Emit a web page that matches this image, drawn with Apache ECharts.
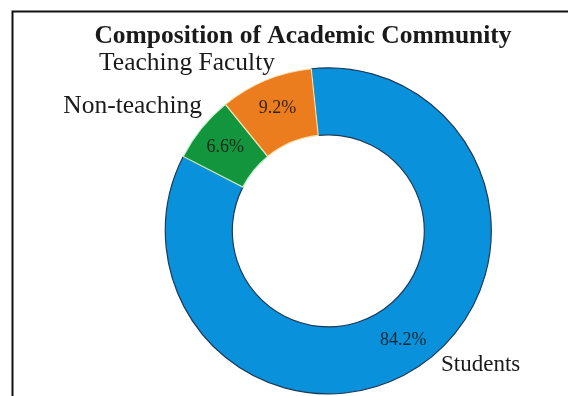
<!DOCTYPE html>
<html>
<head>
<meta charset="utf-8">
<script src="https://cdn.jsdelivr.net/npm/echarts@6/dist/echarts.min.js"></script>
<style>
  html, body { margin: 0; padding: 0; background: #fff; }
  #chart { width: 568px; height: 396px; }
</style>
</head>
<body>
<div id="chart"></div>
<script>
// donut chart - academic community
const categories = ['Students', 'Non-teaching', 'Teaching Faculty']
const shares = [84.2, 6.6, 9.2]
const sliceColors = ['#0a91dc', '#13953d', '#eb7d1f']
const edgeColors = ['#1d3b58', '#bff0c8', '#f5e3b0']
// where the outside names sit (text anchor) and how big
const namePos = [
  { x: 441, y: 365, align: 'left', size: 23 },
  { x: 202, y: 106, align: 'right', size: 25.5 },
  { x: 275, y: 63, align: 'right', size: 25.5 }
]

const chart = echarts.init(document.getElementById('chart'))

const serif = '"Liberation Serif", "Times New Roman", serif'

const pieData = categories.map((name, i) => ({
  name: name,
  value: shares[i],
  itemStyle: { color: sliceColors[i], borderColor: edgeColors[i] }
}))

const nameData = categories.map((name, i) => ({
  name: name,
  value: shares[i],
  label: { fontSize: namePos[i].size }
}))

chart.setOption({
  animation: false,
  title: {
    text: 'Composition of Academic Community',
    left: 298,
    textAlign: 'center',
    top: 18,
    textStyle: { fontFamily: serif, fontSize: 25.5, fontWeight: 'bold', color: '#1a1a1a' }
  },
  graphic: [{
    type: 'rect',
    shape: { x: 12.5, y: 11.5, width: 700, height: 500 },
    style: { fill: null, stroke: '#111', lineWidth: 2 },
    silent: true
  }],
  series: [
    {
      type: 'pie',
      center: ['57.8%', '58.3%'],
      radius: [96, 163],
      startAngle: 96,
      clockwise: true,
      data: pieData,
      itemStyle: { borderWidth: 1.2 },
      label: {
        show: true,
        position: 'inside',
        formatter: p => p.value.toFixed(1) + '%',
        fontFamily: serif,
        fontSize: 18,
        color: 'rgba(20,20,20,0.85)'
      },
      labelLine: { show: false }
    },
    {
      type: 'pie',
      center: ['57.8%', '58.3%'],
      radius: [96, 163],
      startAngle: 96,
      clockwise: true,
      silent: true,
      data: nameData,
      itemStyle: { color: 'rgba(0,0,0,0)' },
      label: {
        show: true,
        position: 'outside',
        formatter: '{b}',
        fontFamily: serif,
        fontSize: 23,
        color: '#1a1a1a'
      },
      labelLine: { show: false },
      labelLayout: p => ({
        x: namePos[p.dataIndex].x,
        y: namePos[p.dataIndex].y,
        align: namePos[p.dataIndex].align,
        verticalAlign: 'middle'
      })
    }
  ]
})
</script>
</body>
</html>
